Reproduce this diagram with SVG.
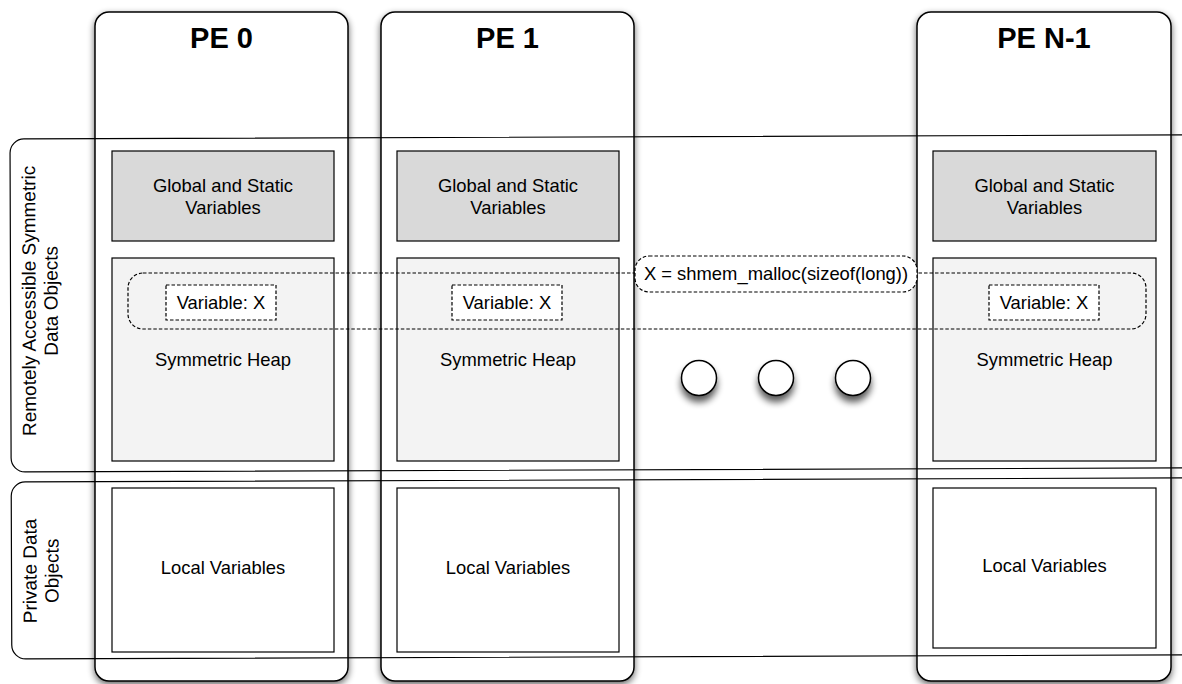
<svg xmlns="http://www.w3.org/2000/svg" width="1182" height="684" viewBox="0 0 1182 684">
<defs>
<filter id="sh" x="-10%" y="-10%" width="120%" height="120%">
<feGaussianBlur in="SourceAlpha" stdDeviation="3.5"/>
<feOffset dx="0" dy="3" result="b"/>
<feComponentTransfer><feFuncA type="linear" slope="0.6"/></feComponentTransfer>
<feMerge><feMergeNode/><feMergeNode in="SourceGraphic"/></feMerge>
</filter>
<filter id="csh" x="-60%" y="-60%" width="220%" height="240%">
<feGaussianBlur in="SourceAlpha" stdDeviation="3.5"/>
<feOffset dx="0" dy="6" result="b"/>
<feComponentTransfer><feFuncA type="linear" slope="0.65"/></feComponentTransfer>
<feMerge><feMergeNode/><feMergeNode in="SourceGraphic"/></feMerge>
</filter>
</defs>
<style>
.col{fill:#fff;stroke:#000;stroke-width:1.5}
.band{fill:none;stroke:#000;stroke-width:1.2}
.glob{fill:#d9d9d9;stroke:#000;stroke-width:1.2}
.heap{fill:#f3f3f3;stroke:#000;stroke-width:1.2}
.loc{fill:#fff;stroke:#000;stroke-width:1.2}
.var{fill:#fff;stroke:#000;stroke-width:1.2;stroke-dasharray:3.5 2}
.dash{fill:none;stroke:#000;stroke-width:1.2;stroke-dasharray:3.5 2}
.lbl{fill:#fff;stroke:#000;stroke-width:1.2;stroke-dasharray:3.5 2}
.t{font-family:"Liberation Sans",Arial,sans-serif;font-size:18.4px;fill:#000;text-anchor:middle}
.bl{font-family:"Liberation Sans",Arial,sans-serif;font-size:19px;fill:#000;text-anchor:middle}
.h{font-family:"Liberation Sans",Arial,sans-serif;font-size:29px;font-weight:bold;fill:#000;text-anchor:middle}
.dot{fill:#fff;stroke:#000;stroke-width:1.5}
</style>
<g id="columns">
<g id="pe0"><rect class="col" x="95" y="12" width="253" height="669" rx="14" filter="url(#sh)"/><text class="h" x="221.5" y="48">PE 0</text></g>
<g id="pe1"><rect class="col" x="381" y="12" width="253" height="669" rx="14" filter="url(#sh)"/><text class="h" x="507.5" y="48">PE 1</text></g>
<g id="peN"><rect class="col" x="917" y="12" width="254" height="669" rx="14" filter="url(#sh)"/><text class="h" x="1044" y="48">PE N-1</text></g>
</g>
<g id="bands" transform="rotate(-0.2 10 140)">
<g id="band-remote">
<path class="band" d="M1200,139 H24 A14,14 0 0 0 10,153 V458 A14,14 0 0 0 24,472 H1200"/>
<text class="bl" transform="translate(35 301) rotate(-90)" x="0" y="0">Remotely Accessible Symmetric</text>
<text class="bl" transform="translate(57 301) rotate(-90)" x="0" y="0">Data Objects</text>
</g>
<g id="band-private">
<path class="band" d="M1200,482 H24 A14,14 0 0 0 10,496 V645 A14,14 0 0 0 24,659 H1200"/>
<text class="bl" transform="translate(35 571) rotate(-90)" x="0" y="0">Private Data</text>
<text class="bl" transform="translate(57 571) rotate(-90)" x="0" y="0">Objects</text>
</g>
</g>
<g id="pe0-boxes">
<g id="pe0-global"><rect class="glob" x="112" y="151" width="222" height="90"/><text class="t" x="223" y="192">Global and Static</text><text class="t" x="223" y="214">Variables</text></g>
<g id="pe0-heap"><rect class="heap" x="112" y="258" width="222" height="203"/><text class="t" x="223" y="366">Symmetric Heap</text></g>
<g id="pe0-local"><rect class="loc" x="112" y="488" width="222" height="164"/><text class="t" x="223" y="574">Local Variables</text></g>
</g>
<g id="pe1-boxes">
<g id="pe1-global"><rect class="glob" x="397" y="151" width="222" height="90"/><text class="t" x="508" y="192">Global and Static</text><text class="t" x="508" y="214">Variables</text></g>
<g id="pe1-heap"><rect class="heap" x="397" y="258" width="222" height="203"/><text class="t" x="508" y="366">Symmetric Heap</text></g>
<g id="pe1-local"><rect class="loc" x="397" y="488" width="222" height="164"/><text class="t" x="508" y="574">Local Variables</text></g>
</g>
<g id="peN-boxes">
<g id="peN-global"><rect class="glob" x="933" y="151" width="223" height="90"/><text class="t" x="1044.5" y="192">Global and Static</text><text class="t" x="1044.5" y="214">Variables</text></g>
<g id="peN-heap"><rect class="heap" x="933" y="258" width="223" height="203"/><text class="t" x="1044.5" y="366">Symmetric Heap</text></g>
<g id="peN-local"><rect class="loc" x="933" y="488" width="223" height="160"/><text class="t" x="1044.5" y="572">Local Variables</text></g>
</g>
<g id="connectors">
<rect class="dash" x="128" y="273" width="1018" height="56" rx="15"/>
</g>
<g id="malloc-label"><rect class="lbl" x="635" y="256" width="282" height="36" rx="14"/><text class="t" x="776" y="280">X = shmem_malloc(sizeof(long))</text></g>
<g id="var0"><rect class="var" x="166" y="285" width="110" height="35"/><text class="t" x="221" y="309">Variable: X</text></g>
<g id="var1"><rect class="var" x="452" y="285" width="110" height="35"/><text class="t" x="507" y="309">Variable: X</text></g>
<g id="varN"><rect class="var" x="989" y="285" width="110" height="35"/><text class="t" x="1044" y="309">Variable: X</text></g>
<g id="ellipsis">
<circle class="dot" cx="699" cy="378" r="17.5" filter="url(#csh)"/>
<circle class="dot" cx="776" cy="378" r="17.5" filter="url(#csh)"/>
<circle class="dot" cx="853" cy="378" r="17.5" filter="url(#csh)"/>
</g>
</svg>
